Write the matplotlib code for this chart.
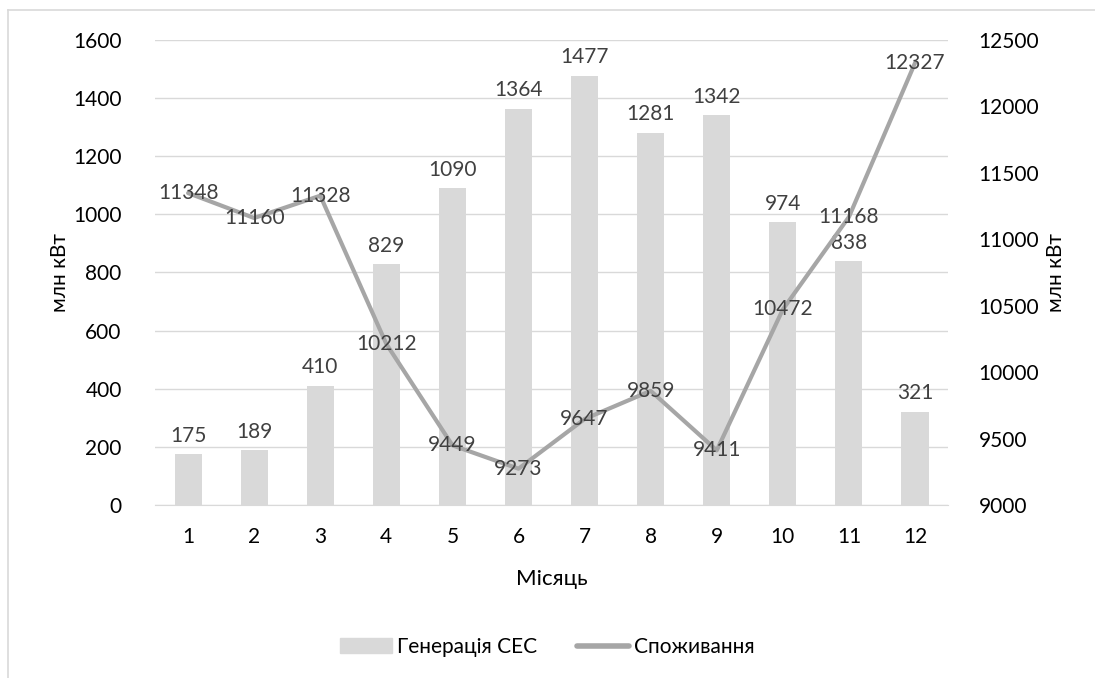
import matplotlib
matplotlib.use("Agg")
import matplotlib.pyplot as plt
from matplotlib.lines import Line2D

months = [1, 2, 3, 4, 5, 6, 7, 8, 9, 10, 11, 12]
generation = [175, 189, 410, 829, 1090, 1364, 1477, 1281, 1342, 974, 838, 321]
consumption = [11348, 11160, 11328, 10212, 9449, 9273, 9647, 9859, 9411, 10472, 11168, 12327]

plt.rcParams['font.family'] = ['Lato', 'DejaVu Sans']

fig = plt.figure(figsize=(10.95, 6.78), dpi=100)
ax = fig.add_axes([0.1416, 0.2552, 0.7242, 0.6858])
ax2 = ax.twinx()

x = list(range(len(months)))
bar_color = '#D9D9D9'
line_color = '#A6A6A6'
grid_color = '#D9D9D9'
label_color = '#404040'
fs = 15

ax.set_zorder(1)
ax2.set_zorder(2)
ax.patch.set_visible(False)

ax.bar(x, generation, width=0.41, color=bar_color, zorder=2)
for xi, v in zip(x, generation):
    ax.annotate(f"{v}", (xi, v), xytext=(0, 6), textcoords='offset points',
                ha='center', va='bottom', fontsize=fs, color=label_color)

ax2.plot(x, consumption, color=line_color, lw=3, solid_capstyle='round', zorder=3)
for xi, v in zip(x, consumption):
    ax2.annotate(f"{v}", (xi, v), ha='center', va='center', fontsize=fs,
                 color=label_color, zorder=4)

ax.set_xlim(-0.5, len(months) - 0.5)
ax.set_ylim(0, 1600)
ax.set_yticks(range(0, 1601, 200))
ax2.set_ylim(9000, 12500)
ax2.set_yticks(range(9000, 12501, 500))

ax.set_xticks(x)
ax.set_xticklabels([str(m) for m in months])
ax.grid(axis='y', color=grid_color, lw=1, zorder=0)
ax.set_axisbelow(True)

for a in (ax, ax2):
    for s in a.spines.values():
        s.set_visible(False)
    a.tick_params(length=0, labelsize=fs, colors='black')
ax.spines['bottom'].set_visible(True)
ax.spines['bottom'].set_color(grid_color)
ax.tick_params(axis='x', pad=16)
ax.tick_params(axis='y', pad=24)
ax2.tick_params(axis='y', pad=22)

ax.set_ylabel("млн кВт", fontsize=fs, labelpad=2)
ax2.set_ylabel("млн кВт", fontsize=fs, labelpad=5)
ax.set_xlabel("Місяць", fontsize=16, labelpad=16)

handles = [
    plt.Rectangle((0, 0), 1, 1, color=bar_color),
    Line2D([0], [0], color=line_color, lw=4, solid_capstyle='round'),
]
fig.legend(handles, ["Генерація СЕС", "Споживання"], loc='center',
           bbox_to_anchor=(0.5, 1 - 647 / 678), ncol=2, frameon=False,
           fontsize=fs, handlelength=2.5, handleheight=0.7, handletextpad=0.25,
           columnspacing=1.9)

frame_color = '#D9D9D9'
fig.add_artist(Line2D([8 / 1095, 8 / 1095], [0, 1 - 10 / 678], color=frame_color, lw=1.2))
fig.add_artist(Line2D([8 / 1095, 1], [1 - 10 / 678, 1 - 10 / 678], color=frame_color, lw=1.2))

fig.savefig("out.png", dpi=100, facecolor='white')
